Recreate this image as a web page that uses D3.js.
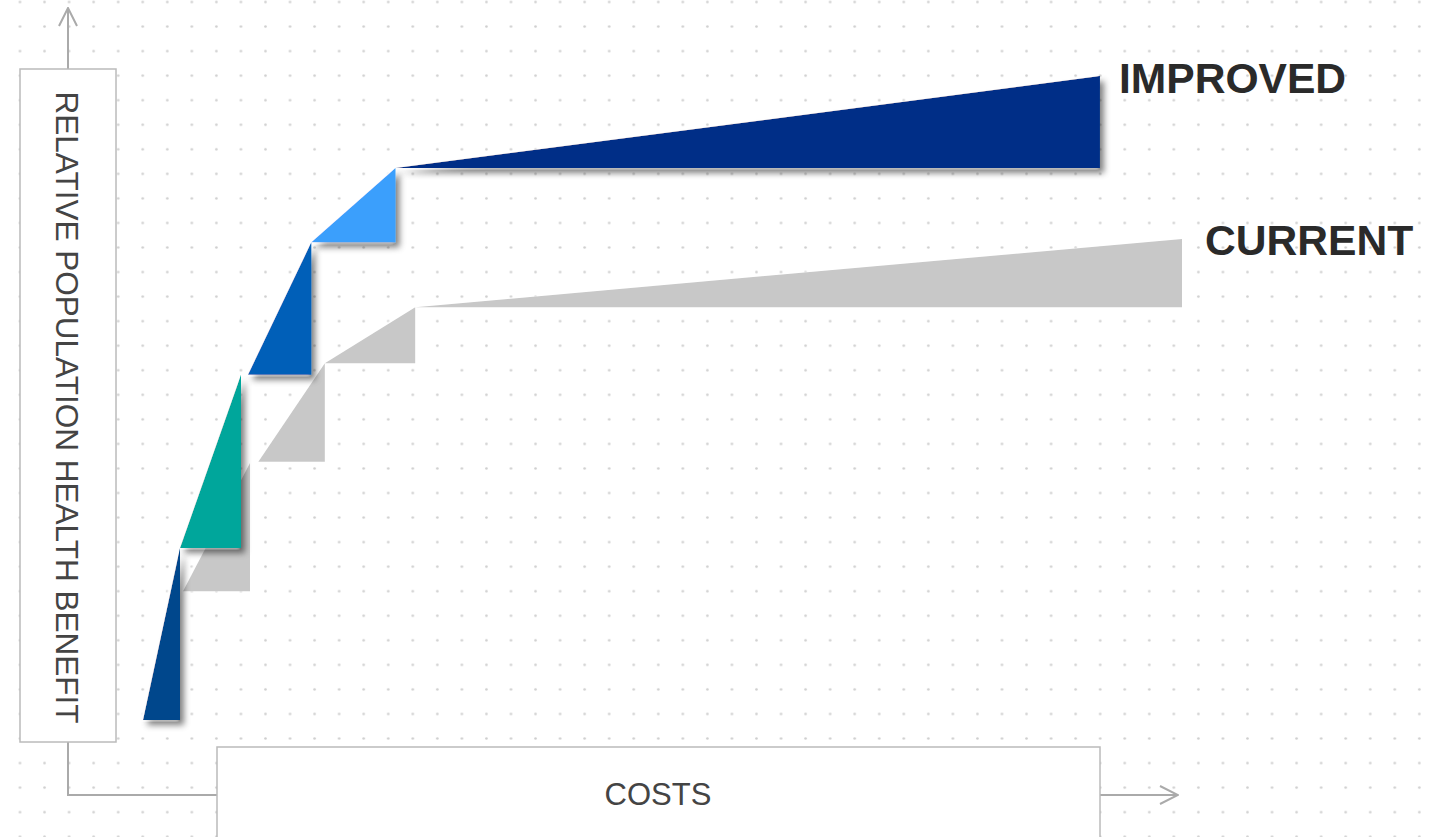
<!DOCTYPE html>
<html>
<head>
<meta charset="utf-8">
<script src="https://cdn.jsdelivr.net/npm/d3@7/dist/d3.min.js"></script>
<style>
  html, body { margin: 0; padding: 0; background: #fff; }
  svg { display: block; }
</style>
</head>
<body>
<svg id="chart" width="1432" height="837"></svg>
<script>
// ---- Data (cost / benefit, arbitrary relative units) ----
// Each step: from (cost0, benefit0) rising to (cost1, benefit1)
const improvedCost0    = [0.0, 3.56, 10.1, 16.2, 24.3];
const improvedCost1    = [3.56, 9.43, 16.2, 24.3, 92.1];
const improvedBenefit0 = [0.0, 26.7, 53.6, 74.2, 85.7];
const improvedBenefit1 = [26.7, 53.6, 74.2, 85.7, 100.0];
const improvedColors   = ["#00468c", "#00a69b", "#005eb8", "#3a9ffc", "#002f87"];

const currentCost0    = [3.85, 11.1, 17.5, 26.2];
const currentCost1    = [10.3, 17.5, 26.2, 100.0];
const currentBenefit0 = [20.0, 40.1, 55.4, 64.1];
const currentBenefit1 = [39.9, 55.4, 64.1, 74.7];
const currentColor    = "#c8c8c8";

const seriesLabels = ["IMPROVED", "CURRENT"];
const xAxisLabel = "COSTS";
const yAxisLabel = "RELATIVE POPULATION HEALTH BENEFIT";

// ---- Layout ----
const W = 1432, H = 837;
const svg = d3.select("#chart");
const x = d3.scaleLinear().domain([0, 100]).range([143, 1182]);
const y = d3.scaleLinear().domain([0, 100]).range([720, 76]);

// ---- Defs: dot pattern, filters ----
const defs = svg.append("defs");
const pat = defs.append("pattern")
  .attr("id", "dots").attr("patternUnits", "userSpaceOnUse")
  .attr("width", 24.55).attr("height", 24.55)
  .attr("x", 20 - 12.27).attr("y", 2 - 12.27);
pat.append("circle").attr("cx", 12.27).attr("cy", 12.27).attr("r", 1.3).attr("fill", "#cfcfcf");

function makeFilter(id, shadow) {
  const f = defs.append("filter").attr("id", id)
    .attr("x", "-30%").attr("y", "-30%").attr("width", "160%").attr("height", "160%");
  f.append("feOffset").attr("in", "SourceAlpha").attr("dx", -3).attr("dy", 0).attr("result", "wo");
  f.append("feGaussianBlur").attr("in", "wo").attr("stdDeviation", 1).attr("result", "wb");
  f.append("feFlood").attr("flood-color", "#fff").attr("flood-opacity", 1).attr("result", "wf");
  f.append("feComposite").attr("in", "wf").attr("in2", "wb").attr("operator", "in").attr("result", "white");
  const merge = ["white"];
  if (shadow) {
    f.append("feGaussianBlur").attr("in", "SourceAlpha").attr("stdDeviation", 3).attr("result", "sb");
    f.append("feOffset").attr("in", "sb").attr("dx", 4).attr("dy", 5).attr("result", "so");
    f.append("feFlood").attr("flood-color", "#000").attr("flood-opacity", 0.5).attr("result", "sf");
    f.append("feComposite").attr("in", "sf").attr("in2", "so").attr("operator", "in").attr("result", "shadow");
    merge.push("shadow");
  }
  merge.push("SourceGraphic");
  const m = f.append("feMerge");
  merge.forEach(r => m.append("feMergeNode").attr("in", r));
}
makeFilter("fShadow", true);
makeFilter("fGlow", false);

defs.append("marker").attr("id", "arrow")
  .attr("viewBox", "0 0 20 20").attr("refX", 19).attr("refY", 10)
  .attr("markerWidth", 20).attr("markerHeight", 20).attr("markerUnits", "userSpaceOnUse")
  .attr("orient", "auto")
  .append("path").attr("d", "M1,1 L19,10 L1,19").attr("fill", "none")
  .attr("stroke", "#aaaaaa").attr("stroke-width", 2);

svg.append("rect").attr("width", W).attr("height", H).attr("fill", "#fff");
svg.append("rect").attr("width", W).attr("height", H).attr("fill", "url(#dots)");

// ---- Axes ----
const axisColor = "#aaaaaa";
const axes = svg.append("g");
axes.append("line").attr("x1", 68).attr("y1", 69).attr("x2", 68).attr("y2", 8)
  .attr("stroke", axisColor).attr("stroke-width", 2).attr("marker-end", "url(#arrow)");
axes.append("path").attr("d", "M68,742 L68,795 L217,795")
  .attr("fill", "none").attr("stroke", axisColor).attr("stroke-width", 2);
axes.append("line").attr("x1", 1100).attr("y1", 795).attr("x2", 1178).attr("y2", 795)
  .attr("stroke", axisColor).attr("stroke-width", 2).attr("marker-end", "url(#arrow)");

axes.append("rect").attr("x", 20).attr("y", 69).attr("width", 96).attr("height", 673)
  .attr("fill", "#fff").attr("stroke", "#bbbbbb").attr("stroke-width", 1.5);
axes.append("rect").attr("x", 217).attr("y", 747).attr("width", 883).attr("height", 120)
  .attr("fill", "#fff").attr("stroke", "#bbbbbb").attr("stroke-width", 1.5);

axes.append("text")
  .attr("transform", "translate(55.5,407.5) rotate(90)")
  .attr("text-anchor", "middle")
  .attr("font-family", "'Liberation Sans', Arial, sans-serif")
  .attr("font-size", 31.5).attr("fill", "#444")
  .text(yAxisLabel);
axes.append("text")
  .attr("x", 658).attr("y", 805)
  .attr("text-anchor", "middle")
  .attr("font-family", "'Liberation Sans', Arial, sans-serif")
  .attr("font-size", 31).attr("fill", "#444")
  .text(xAxisLabel);

// ---- Steps ----
function tri(c0, b0, c1, b1) {
  return [[x(c0), y(b0)], [x(c1), y(b1)], [x(c1), y(b0)]];
}
const line = d3.line();

const currentData = currentCost0.map((c, i) => tri(c, currentBenefit0[i], currentCost1[i], currentBenefit1[i]));
svg.append("g").attr("filter", "url(#fGlow)")
  .selectAll("path").data(currentData).join("path")
  .attr("d", d => line(d) + "Z")
  .attr("fill", currentColor);

const improvedData = improvedCost0.map((c, i) => tri(c, improvedBenefit0[i], improvedCost1[i], improvedBenefit1[i]));
svg.append("g")
  .selectAll("path").data(improvedData).join("path")
  .attr("d", d => line(d) + "Z")
  .attr("fill", (d, i) => improvedColors[i])
  .attr("filter", "url(#fShadow)");

// ---- Series labels ----
const lastI = improvedCost1.length - 1, lastC = currentCost1.length - 1;
svg.append("text")
  .attr("x", x(improvedCost1[lastI]) + 19).attr("y", y(improvedBenefit1[lastI]) + 17)
  .attr("font-family", "'Liberation Sans', Arial, sans-serif").attr("font-weight", "bold")
  .attr("font-size", 42.6).attr("fill", "#2a2a2a").text(seriesLabels[0]);
svg.append("text")
  .attr("x", x(currentCost1[lastC]) + 23).attr("y", y(currentBenefit1[lastC]) + 16)
  .attr("font-family", "'Liberation Sans', Arial, sans-serif").attr("font-weight", "bold")
  .attr("font-size", 42.6).attr("fill", "#2a2a2a").text(seriesLabels[1]);
</script>
</body>
</html>
